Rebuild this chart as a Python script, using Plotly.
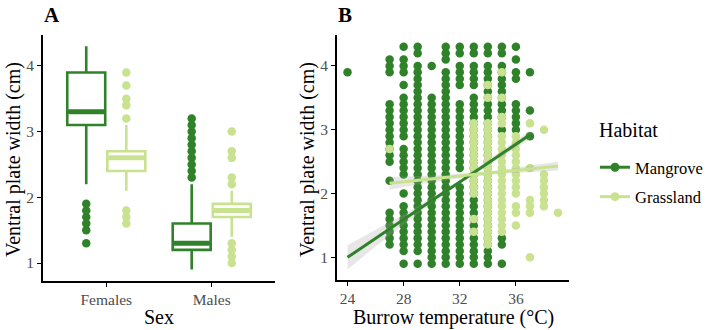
import plotly.graph_objects as go

DARK = "#30822A"
LIGHT = "#C9E28F"
FONT = "Liberation Serif"
TICKCOL = "#4D4D4D"

# ---------------- Panel A: boxplot summaries ----------------
sex_categories = ["Females", "Males"]
sex_positions = [1, 2]

mangrove_q1 = [3.1, 1.2]
mangrove_median = [3.3, 1.3]
mangrove_q3 = [3.9, 1.6]
mangrove_lowerfence = [2.2, 0.9]
mangrove_upperfence = [4.3, 2.2]

grassland_q1 = [2.4, 1.7]
grassland_median = [2.6, 1.8]
grassland_q3 = [2.7, 1.9]
grassland_lowerfence = [2.1, 1.4]
grassland_upperfence = [3.1, 2.1]

mangrove_outliers_females = [1.9, 1.8, 1.7, 1.6, 1.5, 1.3]
mangrove_outliers_males = [2.3, 2.4, 2.5, 2.6, 2.7, 2.8, 2.9, 3.0, 3.1, 3.2]
grassland_outliers_females = [3.9, 3.7, 3.5, 3.4, 3.2, 1.8, 1.7, 1.6]
grassland_outliers_males = [3.0, 2.7, 2.6, 2.3, 2.2, 1.3, 1.2, 1.1, 1.0]

# ---------------- Panel B: points (runs of 0.1 cm steps, high -> low) ----------------
mangrove_temps = [24, 27, 28, 29, 30, 31, 32, 33, 34, 35, 36, 37]
mangrove_runs = [
    [(3.9, 3.9)],
    [(4.1, 3.9), (3.4, 2.5), (2.2, 2.2), (1.7, 1.2)],
    [(4.3, 4.3), (4.1, 3.9), (3.7, 3.7), (3.5, 2.9), (2.7, 2.3), (2.0, 2.0), (1.8, 1.1), (0.9, 0.9)],
    [(4.3, 4.2), (4.0, 1.1), (0.9, 0.9)],
    [(4.0, 4.0), (3.5, 0.9)],
    [(4.3, 4.1), (3.9, 0.9)],
    [(4.3, 4.2), (4.0, 3.7), (3.4, 2.9), (2.8, 2.4), (2.1, 0.9)],
    [(4.3, 4.2), (4.0, 3.7), (3.5, 0.9)],
    [(4.3, 4.2), (4.0, 0.9)],
    [(4.3, 4.2), (4.0, 3.2), (3.0, 3.0), (1.3, 1.2), (0.9, 0.9)],
    [(4.3, 4.3), (4.1, 4.1), (3.9, 3.8), (3.4, 3.0)],
    [(3.9, 3.9), (3.3, 3.3), (2.9, 2.9)],
]
grassland_temps = [27, 33, 34, 35, 36, 37, 38, 39]
grassland_runs = [
    [(2.7, 2.7)],
    [(3.1, 2.0), (1.6, 1.6), (1.4, 1.4)],
    [(3.7, 3.7), (3.5, 3.5), (3.1, 1.2)],
    [(3.9, 3.9), (3.5, 3.5), (3.2, 3.1), (2.9, 1.4)],
    [(2.9, 2.0), (1.8, 1.7), (1.5, 1.5)],
    [(3.1, 3.1), (2.4, 2.4), (1.9, 1.7), (1.0, 1.0)],
    [(3.0, 3.0), (2.3, 1.8)],
    [(1.7, 1.7)],
]

# fitted lines with confidence band
mangrove_fit_x = [24, 26, 28, 30, 32, 34, 36, 37]
mangrove_fit_y = [1.00, 1.30, 1.59, 1.89, 2.18, 2.48, 2.77, 2.92]
mangrove_fit_lo = [0.81, 1.17, 1.51, 1.85, 2.15, 2.44, 2.71, 2.85]
mangrove_fit_hi = [1.19, 1.43, 1.67, 1.93, 2.21, 2.52, 2.83, 2.99]
grassland_fit_x = [27, 29, 31, 33, 35, 37, 39]
grassland_fit_y = [2.16, 2.21, 2.25, 2.30, 2.34, 2.39, 2.43]
grassland_fit_lo = [2.06, 2.14, 2.21, 2.27, 2.31, 2.34, 2.36]
grassland_fit_hi = [2.26, 2.28, 2.29, 2.33, 2.37, 2.44, 2.50]


def expand(temps, runs):
    xs, ys = [], []
    for t, rr in zip(temps, runs):
        for hi, lo in rr:
            k = int(round(hi * 10))
            while k >= int(round(lo * 10)):
                xs.append(t)
                ys.append(k / 10)
                k -= 1
    return xs, ys


fig = go.Figure()

# ---- Panel A ----
dodge = 0.19
bw = 0.36
groups = [
    ("Mangrove", DARK, -dodge, mangrove_q1, mangrove_median, mangrove_q3, mangrove_lowerfence,
     mangrove_upperfence, [mangrove_outliers_females, mangrove_outliers_males]),
    ("Grassland", LIGHT, dodge, grassland_q1, grassland_median, grassland_q3, grassland_lowerfence,
     grassland_upperfence, [grassland_outliers_females, grassland_outliers_males]),
]
for name, col, off, q1, med, q3, lf, uf, outs in groups:
    xpos = [p + off for p in sex_positions]
    fig.add_trace(go.Box(
        x=xpos, q1=q1, median=med, q3=q3, lowerfence=lf, upperfence=uf,
        width=bw, whiskerwidth=0, fillcolor="white", line=dict(color=col, width=2.6),
        boxpoints=False, showlegend=False, hoverinfo="skip", xaxis="x", yaxis="y"))
    for xp, m in zip(xpos, med):
        fig.add_trace(go.Scatter(
            x=[xp - bw / 2 + 0.01, xp + bw / 2 - 0.01], y=[m, m], mode="lines",
            line=dict(color=col, width=5), showlegend=False, hoverinfo="skip",
            xaxis="x", yaxis="y"))
    for xp, o in zip(xpos, outs):
        fig.add_trace(go.Scatter(
            x=[xp] * len(o), y=o, mode="markers", marker=dict(color=col, size=8.5),
            showlegend=False, hoverinfo="skip", xaxis="x", yaxis="y"))

# ---- Panel B ----
mx, my = expand(mangrove_temps, mangrove_runs)
gx, gy = expand(grassland_temps, grassland_runs)
fig.add_trace(go.Scatter(x=mx, y=my, mode="markers", marker=dict(color=DARK, size=8.5),
                         showlegend=False, xaxis="x2", yaxis="y2"))
fig.add_trace(go.Scatter(x=gx, y=gy, mode="markers", marker=dict(color=LIGHT, size=8.5),
                         showlegend=False, xaxis="x2", yaxis="y2"))

for fx, fy, lo, hi, col in [
    (mangrove_fit_x, mangrove_fit_y, mangrove_fit_lo, mangrove_fit_hi, DARK),
    (grassland_fit_x, grassland_fit_y, grassland_fit_lo, grassland_fit_hi, LIGHT),
]:
    fig.add_trace(go.Scatter(
        x=fx + fx[::-1], y=hi + lo[::-1], fill="toself", mode="lines",
        line=dict(width=0), fillcolor="rgba(160,160,160,0.25)",
        showlegend=False, hoverinfo="skip", xaxis="x2", yaxis="y2"))
for fx, fy, col in [(mangrove_fit_x, mangrove_fit_y, DARK), (grassland_fit_x, grassland_fit_y, LIGHT)]:
    fig.add_trace(go.Scatter(x=fx, y=fy, mode="lines", line=dict(color=col, width=3),
                             showlegend=False, hoverinfo="skip", xaxis="x2", yaxis="y2"))

# legend entries
for name, col in [("Mangrove", DARK), ("Grassland", LIGHT)]:
    fig.add_trace(go.Scatter(x=[None], y=[None], mode="lines+markers", name=name,
                             line=dict(color=col, width=3), marker=dict(color=col, size=9),
                             legendgroup=name, xaxis="x2", yaxis="y2"))

axis_common = dict(
    showline=True, linecolor="black", linewidth=1.6, ticks="outside", ticklen=4,
    tickwidth=1.4, tickcolor="black", showgrid=False, zeroline=False,
    tickfont=dict(family=FONT, size=15.5, color=TICKCOL),
)

fig.update_layout(
    width=709, height=330,
    margin=dict(l=0, r=0, t=0, b=0),
    paper_bgcolor="white", plot_bgcolor="white",
    font=dict(family=FONT, color="black"),
    xaxis=dict(domain=[43 / 709, 275 / 709], range=[0.4, 2.6], tickvals=sex_positions,
               ticktext=sex_categories, anchor="y", **axis_common),
    yaxis=dict(domain=[(330 - 281) / 330, (330 - 35) / 330], range=[0.726, 4.47],
               tickvals=[1, 2, 3, 4], anchor="x", **axis_common),
    xaxis2=dict(domain=[337 / 709, 568.5 / 709], range=[23.25, 39.75], tickvals=[24, 28, 32, 36],
                anchor="y2", **axis_common),
    yaxis2=dict(domain=[(330 - 280) / 330, (330 - 35) / 330], range=[0.645, 4.485],
                tickvals=[1, 2, 3, 4], anchor="x2", **axis_common),
    legend=dict(x=595 / 709, y=1 - 150 / 330, xanchor="left", yanchor="top",
                font=dict(family=FONT, size=16.5, color="black"),
                tracegroupgap=5, bgcolor="rgba(0,0,0,0)"),
    showlegend=True,
)

ann = [
    dict(text="<b>A</b>", x=52 / 709, y=1 - 15 / 330, font=dict(size=21), xanchor="center"),
    dict(text="<b>B</b>", x=345 / 709, y=1 - 15 / 330, font=dict(size=21), xanchor="center"),
    dict(text="Sex", x=159 / 709, y=1 - 317 / 330, font=dict(size=20), xanchor="center"),
    dict(text="Burrow temperature (°C)", x=453 / 709, y=1 - 317 / 330, font=dict(size=20), xanchor="center"),
    dict(text="Ventral plate width (cm)", x=13 / 709, y=1 - 160 / 330, font=dict(size=20), textangle=-90,
         xanchor="center"),
    dict(text="Ventral plate width (cm)", x=307 / 709, y=1 - 160 / 330, font=dict(size=20), textangle=-90,
         xanchor="center"),
    dict(text="Habitat", x=597 / 709, y=1 - 130 / 330, font=dict(size=20), xanchor="left"),
]
for a in ann:
    fig.add_annotation(xref="paper", yref="paper", showarrow=False, yanchor="middle",
                       font_family=FONT, font_color="black", **a)

fig.write_html("out.html")
